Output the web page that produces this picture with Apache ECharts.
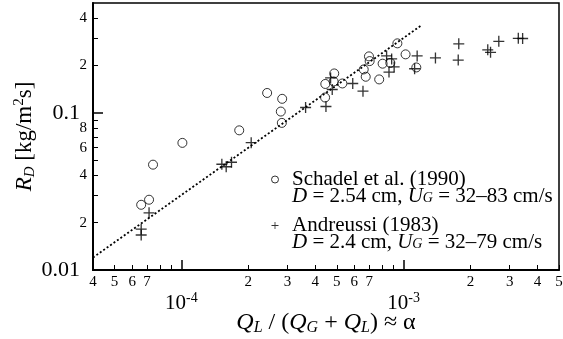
<!DOCTYPE html>
<html><head><meta charset="utf-8">
<script src="https://cdn.jsdelivr.net/npm/echarts@6/dist/echarts.min.js"></script>
<style>html,body{margin:0;padding:0;background:#fff}#c{width:563px;height:339px}</style>
</head><body><div id="c"></div>
<script>
const schadelAlpha = [6.59e-5, 7.15e-5, 7.45e-5, 1.01e-4, 1.82e-4, 2.43e-4, 2.84e-4, 2.80e-4, 2.83e-4, 4.43e-4, 4.44e-4, 4.87e-4, 4.84e-4, 5.30e-4, 6.61e-4, 6.75e-4, 6.98e-4, 7.03e-4, 7.76e-4, 8.04e-4, 8.71e-4, 9.37e-4, 1.02e-3, 1.14e-3];
const schadelRD = [0.0260, 0.0280, 0.0468, 0.0644, 0.0774, 0.1338, 0.1228, 0.1019, 0.0863, 0.1252, 0.1527, 0.1781, 0.1584, 0.1538, 0.1889, 0.1697, 0.2287, 0.2135, 0.1632, 0.2055, 0.2078, 0.2768, 0.2356, 0.1945];
const andreussiAlpha = [6.59e-5, 6.59e-5, 7.15e-5, 1.52e-4, 1.59e-4, 1.68e-4, 2.06e-4, 3.62e-4, 4.47e-4, 4.69e-4, 4.77e-4, 5.90e-4, 6.56e-4, 8.38e-4, 8.83e-4, 9.06e-4, 8.59e-4, 1.15e-3, 1.12e-3, 1.39e-3, 1.77e-3, 1.76e-3, 2.39e-3, 2.46e-3, 2.68e-3, 3.28e-3, 3.43e-3];
const andreussiRD = [0.0182, 0.0167, 0.0231, 0.0471, 0.0454, 0.0485, 0.0646, 0.1081, 0.1097, 0.1668, 0.1408, 0.1538, 0.1373, 0.2304, 0.2204, 0.1960, 0.1816, 0.2304, 0.1909, 0.2237, 0.2748, 0.2166, 0.2517, 0.2426, 0.2851, 0.2980, 0.2971];
const fitAlpha = [4e-5, 1.2e-3];
const fitRD = [0.012, 0.36];

const xMinorTicks = [4e-5, 5e-5, 6e-5, 7e-5, 8e-5, 9e-5, 2e-4, 3e-4, 4e-4, 5e-4, 6e-4, 7e-4, 8e-4, 9e-4, 2e-3, 3e-3, 4e-3, 5e-3];
const xDigitLabels = [4e-5, 5e-5, 6e-5, 7e-5, 2e-4, 3e-4, 4e-4, 5e-4, 6e-4, 7e-4, 2e-3, 3e-3, 4e-3, 5e-3];
const xDecades = [1e-4, 1e-3];
const yMinorTicks = [0.02, 0.03, 0.04, 0.05, 0.06, 0.07, 0.08, 0.09, 0.2, 0.3, 0.4];
const yDigitLabels = [0.02, 0.04, 0.06, 0.08, 0.2, 0.4];
const yDecades = [0.01, 0.1];
const yDecadeText = ['0.01', '0.1'];

const legendNames = ['Schadel et al. (1990)', 'Andreussi (1983)'];
const legendDetails = ['{i|D} = 2.54 cm, {i|U}{sub|G} = 32\u201383 cm/s', '{i|D} = 2.4 cm, {i|U}{sub|G} = 32\u201379 cm/s'];

const FF = 'Liberation Serif';
function zip(a, b) { return a.map((v, i) => [v, b[i]]); }
function mant(v) { const e = Math.floor(Math.log10(v) + 1e-9); return Math.round(v / Math.pow(10, e)); }
function expo(v) { return Math.round(Math.log10(v)); }

const crossPath = 'path://M4.4,0H5.6V10H4.4Z M0,4.4H10V5.6H0Z';

const chart = echarts.init(document.getElementById('c'), null, {renderer: 'canvas'});
const xBase = {type: 'log', logBase: 10, min: 4e-5, max: 5e-3, gridIndex: 0, splitLine: {show: false}, position: 'bottom'};
const yBase = {type: 'log', logBase: 10, min: 0.01, max: 0.5, gridIndex: 0, splitLine: {show: false}, position: 'left'};
chart.setOption({
  animation: false,
  textStyle: {fontFamily: FF, color: '#000'},
  grid: {left: 93, right: 4, top: 3, bottom: 69, show: true, borderColor: '#000', borderWidth: 1.5, containLabel: false, outerBoundsMode: 'none'},
  xAxis: [
    Object.assign({}, xBase, {
      axisLine: {show: true, lineStyle: {color: '#000', width: 2}},
      axisTick: {show: true, inside: true, length: 5, customValues: xMinorTicks, lineStyle: {color: '#000', width: 1}},
      axisLabel: {show: true, customValues: xDigitLabels, margin: 5, fontSize: 15, fontFamily: FF, color: '#000',
        formatter: v => String(mant(v))},
      name: '{i|Q}{sub|L} / ({i|Q}{sub|G} + {i|Q}{sub|L}) \u2248 \u03b1',
      nameLocation: 'middle', nameGap: 40, nameMoveOverlap: false,
      nameTextStyle: {fontFamily: FF, fontSize: 24, color: '#000', lineHeight: 26,
        rich: {
          i: {fontFamily: FF, fontSize: 24, fontStyle: 'italic', color: '#000', lineHeight: 26},
          sub: {fontFamily: FF, fontSize: 16, fontStyle: 'italic', color: '#000', lineHeight: 10, verticalAlign: 'bottom'}
        }}
    }),
    Object.assign({}, xBase, {
      axisLine: {show: false},
      axisTick: {show: true, inside: true, length: 10, customValues: xDecades, lineStyle: {color: '#000', width: 1.5}},
      axisLabel: {show: true, customValues: xDecades, margin: 21, color: '#000',
        formatter: v => '{p|10}{s|' + expo(v) + '}',
        rich: {
          p: {fontFamily: FF, fontSize: 21, color: '#000', lineHeight: 24},
          s: {fontFamily: FF, fontSize: 14, color: '#000', lineHeight: 12, verticalAlign: 'top'}
        }}
    })
  ],
  yAxis: [
    Object.assign({}, yBase, {
      axisLine: {show: true, lineStyle: {color: '#000', width: 2}},
      axisTick: {show: true, inside: true, length: 5, customValues: yMinorTicks, lineStyle: {color: '#000', width: 1}},
      axisLabel: {show: true, customValues: yDigitLabels, margin: 6, fontSize: 15, fontFamily: FF, color: '#000',
        formatter: v => String(mant(v))},
      name: '{i|R}{sub|D} [kg/m{sup|2}s]',
      nameLocation: 'middle', nameGap: 55, nameMoveOverlap: false,
      nameTextStyle: {fontFamily: FF, fontSize: 23, color: '#000', lineHeight: 26,
        rich: {
          i: {fontFamily: FF, fontSize: 23, fontStyle: 'italic', color: '#000', lineHeight: 26},
          sub: {fontFamily: FF, fontSize: 15, fontStyle: 'italic', color: '#000', lineHeight: 10, verticalAlign: 'bottom'},
          sup: {fontFamily: FF, fontSize: 15, color: '#000', lineHeight: 12, verticalAlign: 'top'}
        }}
    }),
    Object.assign({}, yBase, {
      axisLine: {show: false},
      axisTick: {show: true, inside: true, length: 10, customValues: yDecades, lineStyle: {color: '#000', width: 1.5}},
      axisLabel: {show: true, customValues: yDecades, margin: 13, fontSize: 22, fontFamily: FF, color: '#000',
        formatter: v => yDecadeText[yDecades.findIndex(d => Math.abs(Math.log10(d) - Math.log10(v)) < 1e-6)]}
    })
  ],
  legend: {
    data: legendNames, orient: 'vertical', left: 271, top: 154, padding: 0,
    itemWidth: 24, itemHeight: 7, itemGap: -7, selectedMode: false,
    itemStyle: {borderWidth: 1},
    formatter: name => name + '\n' + legendDetails[legendNames.indexOf(name)],
    textStyle: {fontFamily: FF, fontSize: 21, color: '#000', lineHeight: 17, padding: [17, 0, 0, 0],
      rich: {
        i: {fontFamily: FF, fontSize: 21, fontStyle: 'italic', color: '#000', lineHeight: 17},
        sub: {fontFamily: FF, fontSize: 14, fontStyle: 'italic', color: '#000', lineHeight: 8, verticalAlign: 'bottom'}
      }}
  },
  series: [
    {type: 'line', xAxisIndex: 0, yAxisIndex: 0, data: zip(fitAlpha, fitRD), showSymbol: false, symbol: 'none',
      lineStyle: {color: '#000', width: 1.8, type: [2, 2.2]}, silent: true, z: 1},
    {name: legendNames[0], type: 'scatter', xAxisIndex: 0, yAxisIndex: 0, data: zip(schadelAlpha, schadelRD),
      symbol: 'circle', symbolSize: 9,
      itemStyle: {color: 'rgba(0,0,0,0)', borderColor: '#000', borderWidth: 1}, z: 3},
    {name: legendNames[1], type: 'scatter', xAxisIndex: 0, yAxisIndex: 0, data: zip(andreussiAlpha, andreussiRD),
      symbol: crossPath, symbolSize: 11,
      itemStyle: {color: '#000'}, z: 3}
  ]
});
</script></body></html>
